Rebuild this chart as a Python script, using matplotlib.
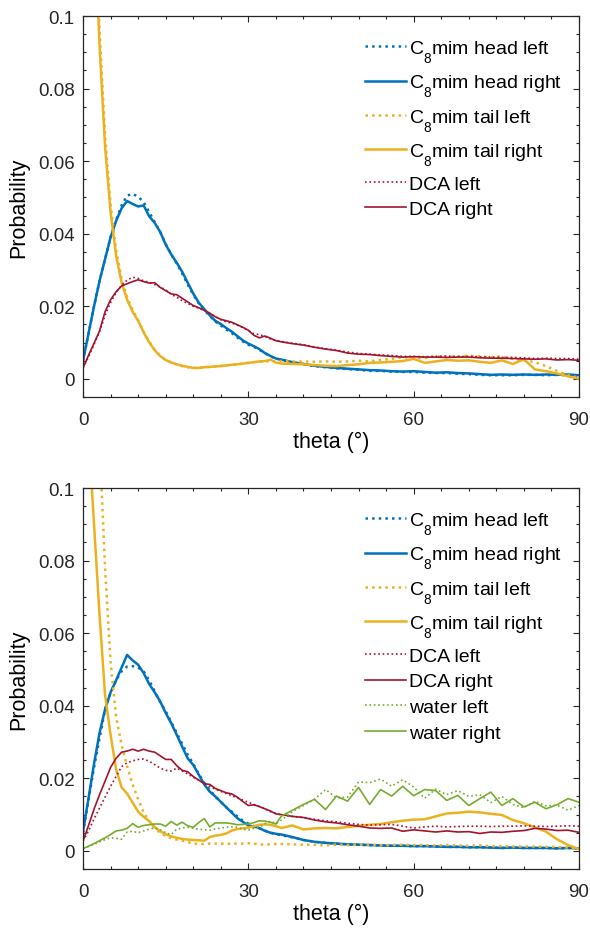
import numpy as np
import matplotlib
matplotlib.use('Agg')
import matplotlib.pyplot as plt
import matplotlib._mathtext as mathtext_internals
from matplotlib.ticker import MultipleLocator, FuncFormatter

plt.rcParams['font.family'] = ['Liberation Sans', 'DejaVu Sans']
plt.rcParams['mathtext.fontset'] = 'custom'
plt.rcParams['mathtext.rm'] = 'Liberation Sans'
plt.rcParams['mathtext.it'] = 'Liberation Sans'
# drop subscripts a bit lower than the mathtext default
mathtext_internals.FontConstantsBase.sub1 = 0.9

# angle grid (deg): 1 deg steps up to 36, then 2 deg steps
theta = list(range(0, 37)) + list(range(38, 91, 2))

# ---- upper panel: C8mim / DCA ----
head_left_1 = [0.005, 0.0125, 0.020, 0.027, 0.033, 0.039, 0.0438, 0.0478, 0.0505, 0.051, 0.0502,
               0.0487, 0.046, 0.0432, 0.0405, 0.0372, 0.0343, 0.0318, 0.029, 0.026, 0.0232, 0.0208,
               0.019, 0.0173, 0.0158, 0.0147, 0.0136, 0.0126, 0.0114, 0.0103, 0.0094, 0.0088, 0.008,
               0.0071, 0.0062, 0.0056, 0.0052,
               0.0045, 0.004, 0.0035, 0.0032, 0.0029, 0.0027, 0.0025, 0.0022, 0.0022, 0.002, 0.0019,
               0.0019, 0.0017, 0.0016, 0.0016, 0.0014, 0.0013, 0.0011, 0.001, 0.001, 0.001, 0.0011,
               0.0011, 0.001, 0.0011, 0.001, 0.0008]
head_right_1 = [0.005, 0.0125, 0.020, 0.027, 0.033, 0.039, 0.0435, 0.047, 0.049, 0.0482, 0.0475,
                0.0478, 0.0448, 0.043, 0.0405, 0.037, 0.0343, 0.032, 0.0295, 0.0265, 0.0235, 0.021,
                0.0192, 0.0175, 0.016, 0.0151, 0.014, 0.013, 0.0118, 0.0106, 0.0097, 0.009, 0.0082,
                0.0071, 0.0063, 0.0056, 0.0053,
                0.0046, 0.0041, 0.0036, 0.0033, 0.003, 0.0028, 0.0026, 0.0024, 0.0023, 0.0021, 0.002,
                0.0021, 0.0019, 0.0017, 0.0018, 0.0016, 0.0015, 0.0013, 0.0011, 0.0012, 0.0011, 0.0012,
                0.0011, 0.0012, 0.0011, 0.0012, 0.001]
tail_left_1 = [0.26, 0.19, 0.135, 0.096, 0.067, 0.048, 0.0355, 0.0275, 0.0225, 0.019, 0.0162,
               0.013, 0.0103, 0.008, 0.0063, 0.0052, 0.0045, 0.004, 0.0035, 0.0032, 0.003, 0.0031,
               0.0032, 0.0033, 0.0034, 0.0036, 0.0037, 0.0039, 0.004, 0.0042, 0.0044, 0.0046, 0.0047,
               0.0048, 0.0049, 0.0048, 0.0049,
               0.0048, 0.0048, 0.0047, 0.0048, 0.0047, 0.0048, 0.005, 0.0048, 0.0052, 0.0055, 0.006,
               0.0058, 0.0057, 0.0062, 0.006, 0.0062, 0.0064, 0.0062, 0.006, 0.0061, 0.0055, 0.0051,
               0.0046, 0.0035, 0.0022, 0.001, 0.0003]
tail_right_1 = [0.25, 0.18, 0.128, 0.092, 0.064, 0.046, 0.034, 0.0265, 0.0218, 0.0185, 0.016,
                0.0128, 0.0101, 0.0079, 0.0063, 0.0052, 0.0045, 0.004, 0.0036, 0.0033, 0.003, 0.003,
                0.0032, 0.0033, 0.0034, 0.0035, 0.0037, 0.0039, 0.004, 0.0042, 0.0044, 0.0046, 0.0048,
                0.0049, 0.0053, 0.0045, 0.0042,
                0.0041, 0.004, 0.0038, 0.0036, 0.0035, 0.0038, 0.004, 0.0044, 0.0045, 0.0047, 0.0049,
                0.0055, 0.0044, 0.0048, 0.0052, 0.005, 0.0051, 0.0047, 0.0044, 0.0051, 0.0041, 0.0054,
                0.0026, 0.0021, 0.0015, 0.0007, 0.0]
dca_left_1 = [0.003, 0.006, 0.0095, 0.013, 0.0175, 0.021, 0.0238, 0.0258, 0.0272, 0.028, 0.0277,
              0.027, 0.0266, 0.026, 0.0253, 0.0245, 0.0233, 0.0225, 0.0215, 0.0208, 0.02, 0.0195,
              0.0188, 0.018, 0.0172, 0.0163, 0.0157, 0.0154, 0.0148, 0.0141, 0.0133, 0.0124, 0.0122,
              0.0117, 0.011, 0.0106, 0.0103,
              0.0098, 0.0094, 0.0088, 0.0083, 0.0079, 0.0074, 0.007, 0.0068, 0.0066, 0.0064, 0.0062,
              0.0062, 0.0061, 0.0062, 0.0063, 0.0061, 0.0062, 0.0061, 0.006, 0.0059, 0.0059, 0.0058,
              0.0056, 0.0057, 0.0056, 0.0056, 0.0054]
dca_right_1 = [0.003, 0.0065, 0.0098, 0.0132, 0.0185, 0.0218, 0.024, 0.0256, 0.0262, 0.0268, 0.0273,
               0.0268, 0.0264, 0.0265, 0.0252, 0.0243, 0.0234, 0.0232, 0.0222, 0.0212, 0.0202, 0.0196,
               0.0189, 0.0181, 0.0171, 0.0164, 0.016, 0.0156, 0.0149, 0.0142, 0.0134, 0.012, 0.0113,
               0.0118, 0.0112, 0.0105, 0.0102,
               0.0097, 0.0093, 0.0087, 0.0082, 0.0078, 0.0071, 0.0068, 0.0067, 0.0064, 0.0062, 0.006,
               0.0061, 0.006, 0.006, 0.0059, 0.006, 0.006, 0.0058, 0.0057, 0.0057, 0.0056, 0.0055,
               0.0054, 0.0055, 0.0052, 0.0053, 0.0051]

# ---- lower panel: C8mim / DCA / water ----
head_left_2 = [0.005, 0.014, 0.023, 0.031, 0.039, 0.0435, 0.047, 0.0495, 0.0508, 0.0509, 0.0505,
               0.0495, 0.047, 0.044, 0.041, 0.0385, 0.0355, 0.0325, 0.0295, 0.0265, 0.024, 0.0212,
               0.0188, 0.0168, 0.015, 0.0135, 0.012, 0.0108, 0.0095, 0.0083, 0.0075, 0.0068, 0.0062,
               0.0056, 0.005, 0.0046, 0.0043,
               0.0037, 0.003, 0.0025, 0.0022, 0.002, 0.0018, 0.0017, 0.0016, 0.0015, 0.0014, 0.0014,
               0.0013, 0.0013, 0.0012, 0.0011, 0.0011, 0.001, 0.001, 0.0009, 0.0008, 0.0009, 0.0008,
               0.0008, 0.0008, 0.0007, 0.0008, 0.0007]
head_right_2 = [0.0054, 0.0145, 0.024, 0.0325, 0.039, 0.0437, 0.047, 0.0505, 0.054, 0.0525, 0.0513,
                0.049, 0.046, 0.0437, 0.0412, 0.038, 0.0352, 0.032, 0.0287, 0.0255, 0.0237, 0.021,
                0.0183, 0.0163, 0.015, 0.0135, 0.012, 0.0105, 0.009, 0.008, 0.007, 0.0067, 0.0063,
                0.0055, 0.005, 0.0047, 0.0045,
                0.0038, 0.003, 0.0025, 0.0022, 0.002, 0.0018, 0.0017, 0.0016, 0.0015, 0.0014, 0.0014,
                0.0013, 0.0013, 0.0012, 0.0011, 0.0011, 0.001, 0.001, 0.0009, 0.0008, 0.0009, 0.0008,
                0.0008, 0.0008, 0.0007, 0.0008, 0.0007]
tail_left_2 = [0.3, 0.22, 0.16, 0.113, 0.078, 0.052, 0.037, 0.0292, 0.0233, 0.0183, 0.0142,
               0.0106, 0.0082, 0.0062, 0.005, 0.0041, 0.0035, 0.0031, 0.0028, 0.0024, 0.002, 0.0019,
               0.0019, 0.002, 0.002, 0.002, 0.0019, 0.002, 0.002, 0.002, 0.0021, 0.002, 0.0018,
               0.0017, 0.0018, 0.0019, 0.0019,
               0.0018, 0.0017, 0.0017, 0.0015, 0.0017, 0.0016, 0.0017, 0.0017, 0.0016, 0.0016, 0.0017,
               0.0016, 0.0016, 0.0015, 0.0016, 0.0015, 0.0014, 0.0015, 0.0013, 0.0013, 0.0012, 0.0012,
               0.0012, 0.0011, 0.0011, 0.0009, 0.0006]
tail_right_2 = [0.16, 0.115, 0.09, 0.065, 0.043, 0.032, 0.0225, 0.0175, 0.0158, 0.0133, 0.0108,
                0.0094, 0.0082, 0.0066, 0.0054, 0.0046, 0.004, 0.0036, 0.0033, 0.0031, 0.003, 0.0029,
                0.0028, 0.0038, 0.0042, 0.0044, 0.0048, 0.0056, 0.006, 0.0062, 0.0064, 0.0068, 0.0072,
                0.0073, 0.0072, 0.0068, 0.0063,
                0.007, 0.0059, 0.0062, 0.0063, 0.0062, 0.0066, 0.0069, 0.0072, 0.0074, 0.0079, 0.0083,
                0.0086, 0.0087, 0.0095, 0.0103, 0.0105, 0.0108, 0.0106, 0.0102, 0.0099, 0.0085, 0.0076,
                0.0065, 0.0053, 0.0032, 0.0016, 0.0005]
dca_left_2 = [0.0027, 0.0055, 0.0088, 0.0118, 0.0148, 0.0178, 0.0205, 0.0232, 0.0243, 0.0248, 0.0252,
              0.0253, 0.0247, 0.0238, 0.0228, 0.0222, 0.022, 0.0228, 0.022, 0.0212, 0.0203, 0.0195,
              0.0186, 0.0178, 0.017, 0.0164, 0.0158, 0.0152, 0.0146, 0.014, 0.0134, 0.0128, 0.0122,
              0.0116, 0.0108, 0.0103, 0.0099,
              0.0095, 0.0092, 0.0087, 0.0083, 0.008, 0.0076, 0.0073, 0.0071, 0.0072, 0.0073, 0.0068,
              0.0063, 0.0066, 0.0068, 0.0066, 0.0067, 0.0068, 0.0068, 0.0067, 0.0068, 0.0068, 0.0069,
              0.0068, 0.0067, 0.0068, 0.0069, 0.0068]
dca_right_2 = [0.0027, 0.007, 0.0115, 0.0155, 0.0192, 0.023, 0.0255, 0.0272, 0.0275, 0.028, 0.0275,
               0.028, 0.0275, 0.0272, 0.0262, 0.0252, 0.0252, 0.0235, 0.0222, 0.0218, 0.0205, 0.0195,
               0.0185, 0.0183, 0.0172, 0.0166, 0.016, 0.0157, 0.0148, 0.0136, 0.0125, 0.0127, 0.0122,
               0.0116, 0.011, 0.0102, 0.01,
               0.0095, 0.0092, 0.0085, 0.008, 0.0077, 0.0072, 0.0068, 0.0063, 0.0062, 0.0063, 0.0054,
               0.0058, 0.0055, 0.0052, 0.0055, 0.0052, 0.0053, 0.0048, 0.0052, 0.0051, 0.0054, 0.0056,
               0.0062, 0.006, 0.0056, 0.0057, 0.0051]
water_left_2 = [0.0006, 0.0012, 0.0018, 0.0025, 0.0031, 0.0036, 0.0035, 0.0032, 0.0052, 0.0054, 0.005,
                0.0055, 0.006, 0.0063, 0.0058, 0.005, 0.0045, 0.006, 0.0063, 0.0065, 0.0062, 0.006,
                0.0058, 0.0057, 0.006, 0.0063, 0.0065, 0.0066, 0.0065, 0.006, 0.0057, 0.0062, 0.0065,
                0.0075, 0.0082, 0.0075, 0.0085,
                0.0108, 0.0125, 0.0142, 0.0169, 0.0146, 0.0148, 0.019, 0.0188, 0.0198, 0.0178, 0.0196,
                0.0176, 0.0145, 0.017, 0.0155, 0.0166, 0.015, 0.0155, 0.0133, 0.015, 0.0128, 0.0119,
                0.0137, 0.0124, 0.0126, 0.0112, 0.0125]
water_right_2 = [0.0006, 0.0013, 0.002, 0.0028, 0.0036, 0.0045, 0.0055, 0.0057, 0.0062, 0.0075, 0.0065,
                 0.007, 0.0072, 0.0074, 0.0074, 0.0068, 0.0081, 0.0071, 0.0079, 0.0069, 0.0065, 0.0078,
                 0.0089, 0.0066, 0.0077, 0.0077, 0.0077, 0.0075, 0.0072, 0.0073, 0.0074, 0.0078, 0.0083,
                 0.0082, 0.0079, 0.0074, 0.0096,
                 0.0112, 0.0128, 0.0142, 0.0114, 0.0151, 0.0137, 0.0175, 0.0128, 0.0169, 0.0151, 0.0178,
                 0.0152, 0.0169, 0.0166, 0.0139, 0.0153, 0.0125, 0.0144, 0.0162, 0.0125, 0.0144, 0.0121,
                 0.0134, 0.0116, 0.0127, 0.0144, 0.0134]

x_ticks = [0, 30, 60, 90]
y_ticks = [0, 0.02, 0.04, 0.06, 0.08, 0.1]

BLUE = '#0072BD'
YELLOW = '#EDB120'
RED = '#A2142F'
GREEN = '#77AC30'
AXC = '#262626'

fig = plt.figure(figsize=(5.9, 9.29), dpi=100)


def setup_axes(ax):
    ax.set_xlim(0, 90)
    ax.set_ylim(-0.005, 0.1)
    ax.set_xticks(x_ticks)
    ax.set_yticks(y_ticks)
    ax.xaxis.set_minor_locator(MultipleLocator(5))
    ax.yaxis.set_minor_locator(MultipleLocator(0.005))
    ax.yaxis.set_major_formatter(FuncFormatter(lambda v, p: '%g' % round(v, 4)))
    ax.tick_params(which='both', direction='in', top=True, right=True,
                   color=AXC, labelcolor=AXC, labelsize=13.5, width=0.8)
    ax.tick_params(which='major', length=4.5, pad=6)
    ax.tick_params(axis='x', which='major', pad=10)
    ax.tick_params(which='minor', length=2.5)
    for s in ax.spines.values():
        s.set_color(AXC)
        s.set_linewidth(0.9)
    ax.set_xlabel('theta (°)', fontsize=15.5, color='black', labelpad=2)
    ax.set_ylabel('Probability', fontsize=15.5, color='black', labelpad=6)


def draw_panel(ax, series):
    for ys, color, ls, lw, label in series:
        ax.plot(theta, ys, color=color, linestyle=ls, linewidth=lw, label=label)
    setup_axes(ax)
    ax.legend(loc='upper right', frameon=False, fontsize=14, handlelength=2.1,
              handletextpad=0.2, labelspacing=0.42, borderaxespad=0.45,
              bbox_to_anchor=(1.0, 0.985))


ax1 = fig.add_axes([0.1407, 0.5716, 0.8407, 0.4101])
draw_panel(ax1, [
    (head_left_1, BLUE, ':', 1.8, 'C$_8$mim head left'),
    (head_right_1, BLUE, '-', 1.8, 'C$_8$mim head right'),
    (tail_left_1, YELLOW, ':', 1.8, 'C$_8$mim tail left'),
    (tail_right_1, YELLOW, '-', 1.8, 'C$_8$mim tail right'),
    (dca_left_1, RED, ':', 1.2, 'DCA left'),
    (dca_right_1, RED, '-', 1.2, 'DCA right'),
])

ax2 = fig.add_axes([0.1407, 0.0635, 0.8407, 0.4101])
draw_panel(ax2, [
    (head_left_2, BLUE, ':', 1.8, 'C$_8$mim head left'),
    (head_right_2, BLUE, '-', 1.8, 'C$_8$mim head right'),
    (tail_left_2, YELLOW, ':', 1.8, 'C$_8$mim tail left'),
    (tail_right_2, YELLOW, '-', 1.8, 'C$_8$mim tail right'),
    (dca_left_2, RED, ':', 1.2, 'DCA left'),
    (dca_right_2, RED, '-', 1.2, 'DCA right'),
    (water_left_2, GREEN, ':', 1.2, 'water left'),
    (water_right_2, GREEN, '-', 1.2, 'water right'),
])

fig.savefig('out.png', dpi=100)
